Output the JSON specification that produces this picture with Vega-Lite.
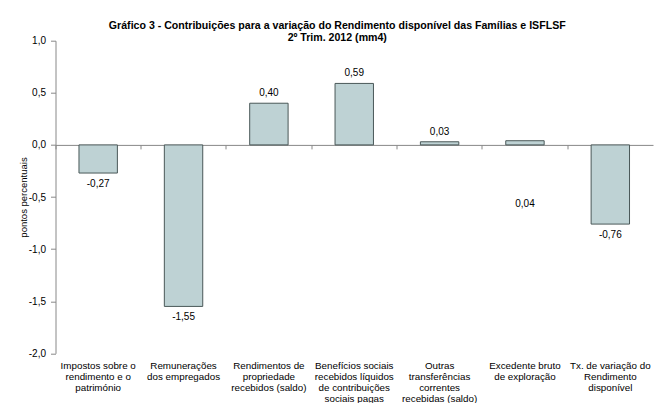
{
  "$schema": "https://vega.github.io/schema/vega-lite/v6.json",
  "width": 597.5,
  "height": 312.6,
  "autosize": {"type": "none"},
  "padding": {"left": 55.5, "top": 40.7, "right": 11, "bottom": 49.7},
  "background": "white",
  "config": {
    "locale": {"number": {"decimal": ",", "thousands": ".", "grouping": [3], "currency": ["", " €"], "minus": "-"}},
    "view": {"stroke": null},
    "font": "Liberation Sans"
  },
  "title": {
    "text": "Gráfico 3 - Contribuições para a variação do Rendimento disponível das Famílias e ISFLSF",
    "subtitle": "2º Trim. 2012 (mm4)",
    "font": "Liberation Sans",
    "fontSize": 10.6,
    "fontWeight": "bold",
    "color": "#000000",
    "subtitleFont": "Liberation Sans",
    "subtitleFontSize": 10.6,
    "subtitleFontWeight": "bold",
    "subtitleColor": "#000000",
    "subtitlePadding": 2,
    "anchor": "middle",
    "dx": -17,
    "offset": -8
  },
  "data": {
    "values": [
      {"categoria": "Impostos sobre o|rendimento e o|património", "valor": -0.27},
      {"categoria": "Remunerações|dos empregados", "valor": -1.55},
      {"categoria": "Rendimentos de|propriedade|recebidos (saldo)", "valor": 0.40},
      {"categoria": "Benefícios sociais|recebidos líquidos|de contribuições|sociais pagas", "valor": 0.59},
      {"categoria": "Outras|transferências|correntes|recebidas (saldo)", "valor": 0.03},
      {"categoria": "Excedente bruto|de exploração", "valor": 0.04},
      {"categoria": "Tx. de variação do|Rendimento|disponível", "valor": -0.76}
    ]
  },
  "encoding": {
    "x": {
      "field": "categoria",
      "type": "nominal",
      "sort": null,
      "scale": {"paddingInner": 0, "paddingOuter": 0},
      "axis": {
        "orient": "bottom",
        "offset": -208.4,
        "title": null,
        "domain": true,
        "domainColor": "#888888",
        "ticks": true,
        "tickColor": "#888888",
        "tickSize": 4,
        "bandPosition": 0,
        "labelAngle": 0,
        "labelExpr": "split(datum.label, '|')",
        "labelFont": "Liberation Sans",
        "labelFontSize": 9.8,
        "labelColor": "#000000",
        "labelLineHeight": 11,
        "labelPadding": 212,
        "labelBaseline": "top",
        "labelLimit": 200,
        "labelOverlap": false,
        "labelBound": false
      }
    },
    "y": {
      "field": "valor",
      "type": "quantitative",
      "scale": {"domain": [-2, 1], "nice": false, "zero": false},
      "axis": {
        "title": "pontos percentuais",
        "titleFont": "Liberation Sans",
        "titleFontSize": 9.5,
        "titleFontWeight": "normal",
        "titleColor": "#000000",
        "titlePadding": 0,
        "values": [-2, -1.5, -1, -0.5, 0, 0.5, 1],
        "format": ".1f",
        "grid": false,
        "domainColor": "#888888",
        "tickColor": "#888888",
        "tickSize": 5,
        "labelFont": "Liberation Sans",
        "labelFontSize": 10,
        "labelColor": "#000000",
        "labelPadding": 5
      }
    }
  },
  "layer": [
    {
      "mark": {"type": "bar", "color": "#BED2D4", "stroke": "#4A5858", "strokeWidth": 1, "width": {"band": 0.45}}
    },
    {
      "transform": [{"filter": "datum.valor >= 0 && datum.valor != 0.04"}],
      "mark": {"type": "text", "baseline": "bottom", "dy": -5, "font": "Liberation Sans", "fontSize": 10, "color": "#000000"},
      "encoding": {
        "text": {"field": "valor", "type": "quantitative", "format": ".2f"}
      }
    },
    {
      "transform": [{"filter": "datum.valor == 0.04"}],
      "mark": {"type": "text", "baseline": "middle", "dy": 63.5, "font": "Liberation Sans", "fontSize": 10, "color": "#000000"},
      "encoding": {
        "text": {"field": "valor", "type": "quantitative", "format": ".2f"}
      }
    },
    {
      "transform": [{"filter": "datum.valor < 0"}],
      "mark": {"type": "text", "baseline": "top", "dy": 6, "font": "Liberation Sans", "fontSize": 10, "color": "#000000"},
      "encoding": {
        "text": {"field": "valor", "type": "quantitative", "format": ".2f"}
      }
    }
  ]
}
